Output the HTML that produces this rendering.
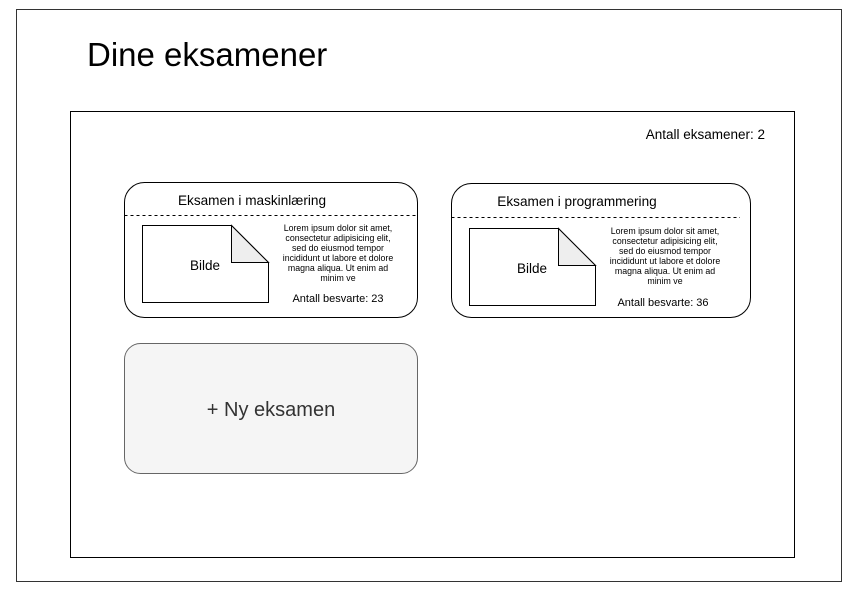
<!DOCTYPE html>
<html><head><meta charset="utf-8"><style>
body{margin:0;background:#fff;}
svg text{font-family:"Liberation Sans",Arial,sans-serif;}
</style></head><body>
<svg width="859" height="591" xmlns="http://www.w3.org/2000/svg">
<rect x="0" y="0" width="859" height="591" fill="#fff"/>
<rect x="16.5" y="9.5" width="825" height="572" fill="#fff" stroke="#333" stroke-width="1"/>
<text x="87" y="66" font-size="33" fill="#000">Dine eksamener</text>
<rect x="70.5" y="111.5" width="724" height="446" fill="#fff" stroke="#000" stroke-width="1"/>
<text x="765" y="139" font-size="13.5" text-anchor="end" fill="#000">Antall eksamener: 2</text>

<!-- card 1 -->
<rect x="124.5" y="182.5" width="293" height="135" rx="20" fill="#fff" stroke="#000" stroke-width="1"/>
<line x1="124.5" y1="215.5" x2="417.5" y2="215.5" stroke="#000" stroke-dasharray="3,3"/>
<text x="252" y="205" font-size="13.6" text-anchor="middle">Eksamen i maskinlæring</text>
<path d="M142.5 225.5 H231.5 L268.5 262.5 V302.5 H142.5 Z" fill="#fff" stroke="#000"/>
<path d="M231.5 225.5 V262.5 H268.5 Z" fill="#eee" stroke="#000"/>
<text x="205" y="270" font-size="13.5" text-anchor="middle">Bilde</text>
<g font-size="8.8" text-anchor="middle" fill="#000">
<text x="338" y="231">Lorem ipsum dolor sit amet,</text>
<text x="338" y="241">consectetur adipisicing elit,</text>
<text x="338" y="251">sed do eiusmod tempor</text>
<text x="338" y="261">incididunt ut labore et dolore</text>
<text x="338" y="271">magna aliqua. Ut enim ad</text>
<text x="338" y="281">minim ve</text>
</g>
<text x="338" y="302" font-size="11" text-anchor="middle">Antall besvarte: 23</text>

<!-- card 2 -->
<rect x="451.5" y="183.5" width="299" height="134" rx="20" fill="#fff" stroke="#000" stroke-width="1"/>
<line x1="451.5" y1="217.5" x2="740" y2="217.5" stroke="#000" stroke-dasharray="3,3"/>
<text x="577" y="206" font-size="13.6" text-anchor="middle">Eksamen i programmering</text>
<path d="M469.5 228.5 H558.5 L595.5 265.5 V305.5 H469.5 Z" fill="#fff" stroke="#000"/>
<path d="M558.5 228.5 V265.5 H595.5 Z" fill="#eee" stroke="#000"/>
<text x="532" y="273" font-size="13.5" text-anchor="middle">Bilde</text>
<g font-size="8.8" text-anchor="middle" fill="#000">
<text x="665" y="234">Lorem ipsum dolor sit amet,</text>
<text x="665" y="244">consectetur adipisicing elit,</text>
<text x="665" y="254">sed do eiusmod tempor</text>
<text x="665" y="264">incididunt ut labore et dolore</text>
<text x="665" y="274">magna aliqua. Ut enim ad</text>
<text x="665" y="284">minim ve</text>
</g>
<text x="663" y="306" font-size="11" text-anchor="middle">Antall besvarte: 36</text>

<!-- new exam -->
<rect x="124.5" y="343.5" width="293" height="130" rx="16" fill="#f5f5f5" stroke="#666" stroke-width="1"/>
<text x="271" y="416" font-size="20" text-anchor="middle" fill="#333">+ Ny eksamen</text>
</svg>
</body></html>
